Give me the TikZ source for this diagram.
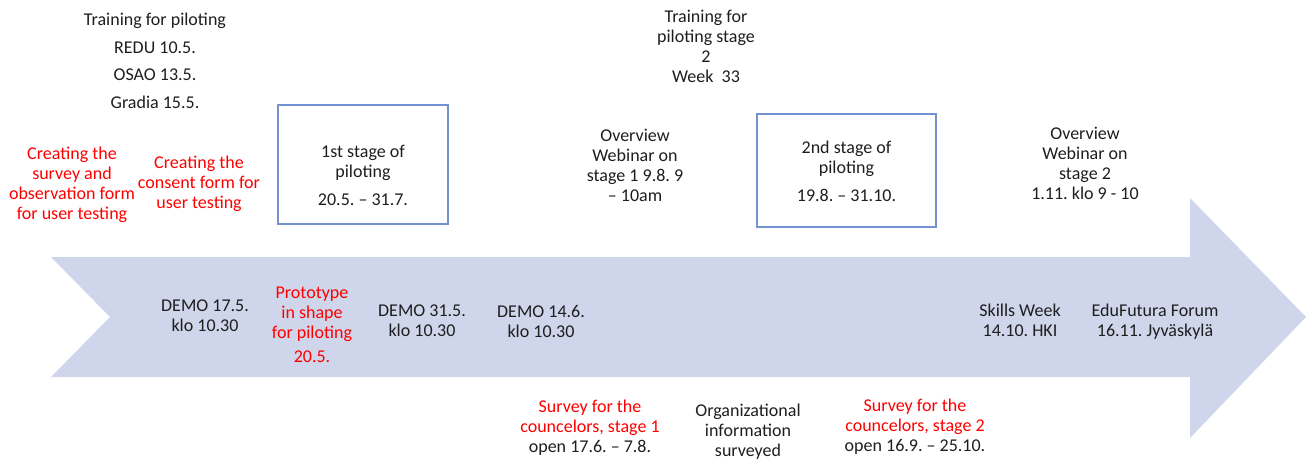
\documentclass[tikz,border=0pt]{standalone}
\usepackage{fontspec}
\setmainfont{Carlito}
\frenchspacing
\definecolor{arrowfill}{RGB}{207,213,234}
\definecolor{boxline}{RGB}{114,147,207}
\definecolor{txtred}{RGB}{255,0,0}
\definecolor{txtblk}{RGB}{30,30,30}
\begin{document}
\begin{tikzpicture}[x=1pt,y=-1pt,
  lbl/.style={align=center,inner sep=0pt,text=txtblk,font=\fontsize{18}{20}\selectfont},
  redlbl/.style={lbl,text=txtred},
  stagebox/.style={draw=boxline,line width=1.2pt,inner sep=0pt}]
\useasboundingbox (0,0) rectangle (1306,464);
% timeline arrow
\fill[arrowfill] (51,257) -- (1190,257) -- (1190,198) -- (1306,317) -- (1190,438) -- (1190,377) -- (51,377) -- (110,317) -- cycle;
% stage boxes
\node[stagebox,minimum width=170pt,minimum height=119pt] (box1) at (363,164.5) {};
\node[stagebox,minimum width=179pt,minimum height=113pt] (box2) at (846.5,170.5) {};
\node[lbl] (box1t) at (363,175) {1st stage of\\piloting\\[8pt]20.5. -- 31.7.};
\node[lbl] (box2t) at (846.5,171) {2nd stage of\\piloting\\[8pt]19.8. -- 31.10.};
% top texts
\node[lbl] (train1) at (155,61) {Training for piloting\\[7.5pt]REDU 10.5.\\[7.5pt]OSAO 13.5.\\[7.5pt]Gradia 15.5.};
\node[lbl] (train2) at (706,46.5) {Training for\\piloting stage\\2\\Week\ \ 33};
\node[redlbl] (create1) at (72,185) {Creating the\\survey and\\observation form\\for user testing};
\node[redlbl] (create2) at (199,184) {Creating the\\consent form for\\user testing};
\node[lbl] (web1) at (635,165) {Overview\\Webinar on\\stage 1 9.8. 9\\-- 10am};
\node[lbl] (web2) at (1085,163) {Overview\\Webinar on\\stage 2\\1.11. klo 9 - 10};
% on the arrow
\node[lbl] (demo1) at (205,316) {DEMO 17.5.\\klo 10.30};
\node[redlbl] (proto) at (312,325) {Prototype\\in shape\\for piloting\\[4pt]20.5.};
\node[lbl] (demo2) at (422,321) {DEMO 31.5.\\klo 10.30};
\node[lbl] (demo3) at (541,321) {DEMO 14.6.\\klo 10.30};
\node[lbl] (skills) at (1020,320) {Skills Week\\14.10. HKI};
\node[lbl] (edu) at (1155,322) {EduFutura Forum\\16.11. Jyväskylä};
% bottom texts
\node[lbl] (surv1) at (590,428) {\textcolor{txtred}{Survey for the}\\\textcolor{txtred}{councelors, stage 1}\\open 17.6. -- 7.8.};
\node[lbl] (org) at (748,432) {Organizational\\information\\surveyed};
\node[lbl] (surv2) at (915,427) {\textcolor{txtred}{Survey for the}\\\textcolor{txtred}{councelors, stage 2}\\open 16.9. -- 25.10.};
\end{tikzpicture}
\end{document}
